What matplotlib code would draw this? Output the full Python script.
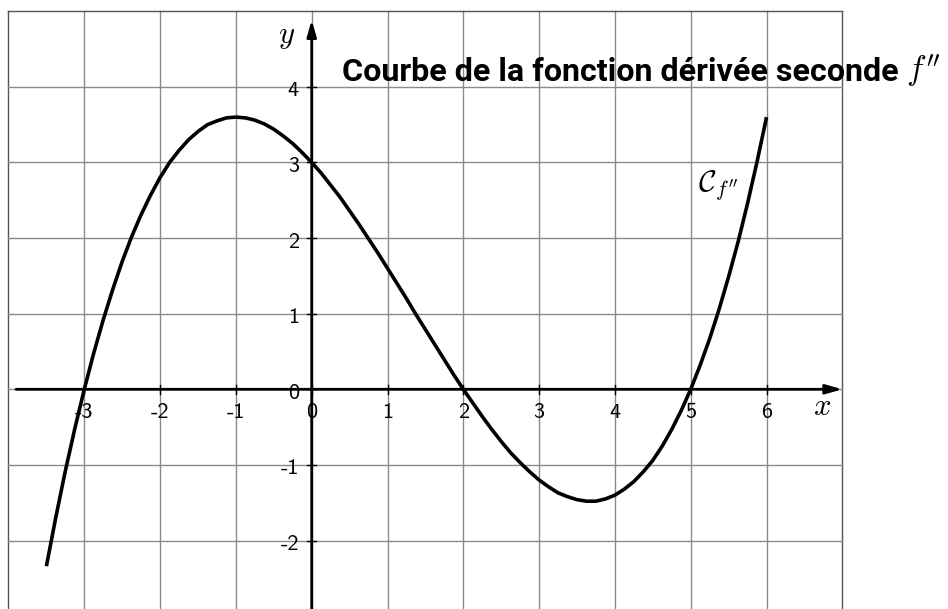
import matplotlib
matplotlib.use("Agg")
import matplotlib.pyplot as plt

plt.rcParams['mathtext.fontset'] = 'cm'

# Data
x_vals = [-3.5, -3.375, -3.25, -3.125, -3.0, -2.875, -2.75, -2.625, -2.5, -2.375,
          -2.25, -2.125, -2.0, -1.875, -1.75, -1.625, -1.5, -1.375, -1.25, -1.125,
          -1.0, -0.875, -0.75, -0.625, -0.5, -0.375, -0.25, -0.125, 0.0, 0.125,
          0.25, 0.375, 0.5, 0.625, 0.75, 0.875, 1.0, 1.125, 1.25, 1.375,
          1.5, 1.625, 1.75, 1.875, 2.0, 2.125, 2.25, 2.375, 2.5, 2.625,
          2.75, 2.875, 3.0, 3.125, 3.25, 3.375, 3.5, 3.625, 3.75, 3.875,
          4.0, 4.125, 4.25, 4.375, 4.5, 4.625, 4.75, 4.875, 5.0, 5.125,
          5.25, 5.375, 5.5, 5.625, 5.75, 5.875, 6.0]
y_vals = [-2.34, -1.69, -1.08, -0.52, 0.0, 0.48, 0.92, 1.32, 1.69, 2.02,
          2.31, 2.57, 2.80, 3.00, 3.16, 3.30, 3.41, 3.50, 3.55, 3.59,
          3.60, 3.59, 3.56, 3.51, 3.44, 3.35, 3.25, 3.13, 3.00, 2.86,
          2.70, 2.54, 2.36, 2.18, 1.99, 1.80, 1.60, 1.40, 1.20, 0.99,
          0.79, 0.59, 0.39, 0.19, 0.0, -0.18, -0.36, -0.53, -0.69, -0.84,
          -0.97, -1.09, -1.20, -1.29, -1.37, -1.42, -1.46, -1.48, -1.48, -1.45,
          -1.40, -1.32, -1.22, -1.09, -0.94, -0.75, -0.53, -0.28, 0.0, 0.32,
          0.67, 1.06, 1.49, 1.95, 2.46, 3.01, 3.60]
x_ticks = [-3, -2, -1, 0, 1, 2, 3, 4, 5, 6]
x_tick_labels = ['-3', '-2', '-1', '0', '1', '2', '3', '4', '5', '6']
y_ticks = [-2, -1, 0, 1, 2, 3, 4]
y_tick_labels = ['-2', '-1', '0', '1', '2', '3', '4']
grid_x = list(range(-4, 8))
grid_y = list(range(-3, 6))
title_text = "Courbe de la fonction dérivée seconde"
title_math = r"$f''$"
curve_label = r"$\mathcal{C}_{f''}$"

fig = plt.figure(figsize=(9.48, 6.09), dpi=100)
ax = fig.add_axes([0, 0, 1, 1])
ax.set_xlim(-4.112, 8.394)
ax.set_ylim(-2.906, 5.149)
ax.axis('off')

# grid
for gx in grid_x:
    c = '#555555' if gx in (grid_x[0], grid_x[-1]) else '#8a8a8a'
    ax.plot([gx, gx], [grid_y[0], grid_y[-1]], color=c, lw=1.0, zorder=1)
for gy in grid_y:
    c = '#555555' if gy in (grid_y[0], grid_y[-1]) else '#8a8a8a'
    ax.plot([grid_x[0], grid_x[-1]], [gy, gy], color=c, lw=1.0, zorder=1)

# axes with arrows
arrow_style = '-|>,head_length=0.7,head_width=0.2'
ax.annotate('', xy=(7.0, 0), xytext=(-3.9, 0),
            arrowprops=dict(arrowstyle=arrow_style, lw=2.0, color='black',
                            mutation_scale=14, shrinkA=0, shrinkB=0), zorder=3)
ax.annotate('', xy=(0, 4.885), xytext=(0, -3.2),
            arrowprops=dict(arrowstyle=arrow_style, lw=2.0, color='black',
                            mutation_scale=14, shrinkA=0, shrinkB=0), zorder=3)

# ticks
for t, lab in zip(x_ticks, x_tick_labels):
    ax.plot([t, t], [-0.06, 0.06], color='black', lw=1.0, zorder=3)
    ax.text(t, -0.384, lab, ha='center', va='baseline', fontsize=16,
            family='cmss10', zorder=5)
for t, lab in zip(y_ticks, y_tick_labels):
    ax.plot([-0.06, 0.06], [t, t], color='black', lw=1.0, zorder=3)
    ax.text(-0.17, t - 0.125, lab, ha='right', va='baseline', fontsize=16,
            family='cmss10', zorder=5)

# axis labels
ax.text(6.73, -0.23, r'$x$', ha='center', va='center', fontsize=22)
ax.text(-0.33, 4.66, r'$y$', ha='center', va='center', fontsize=22)

# curve
ax.plot(x_vals, y_vals, color='black', lw=2.6, zorder=4, solid_capstyle='butt')

# curve label
ax.text(5.37, 2.70, curve_label, ha='center', va='center', fontsize=22, zorder=5)

# title (fit to the reference width)
t1 = ax.text(0.396, 4.082, title_text, ha='left', va='baseline', fontsize=20,
             family='Roboto', fontweight='bold', zorder=5)
fig.canvas.draw()
r = fig.canvas.get_renderer()
w = t1.get_window_extent(r).width
t1.set_fontsize(20 * 555.0 / w)
fig.canvas.draw()
bb = t1.get_window_extent(r)
xd, _ = ax.transData.inverted().transform((bb.x1 + 8, 0))
ax.text(xd, 4.082, title_math, ha='left', va='baseline', fontsize=24, zorder=5)

fig.savefig('out.png', dpi=100)
